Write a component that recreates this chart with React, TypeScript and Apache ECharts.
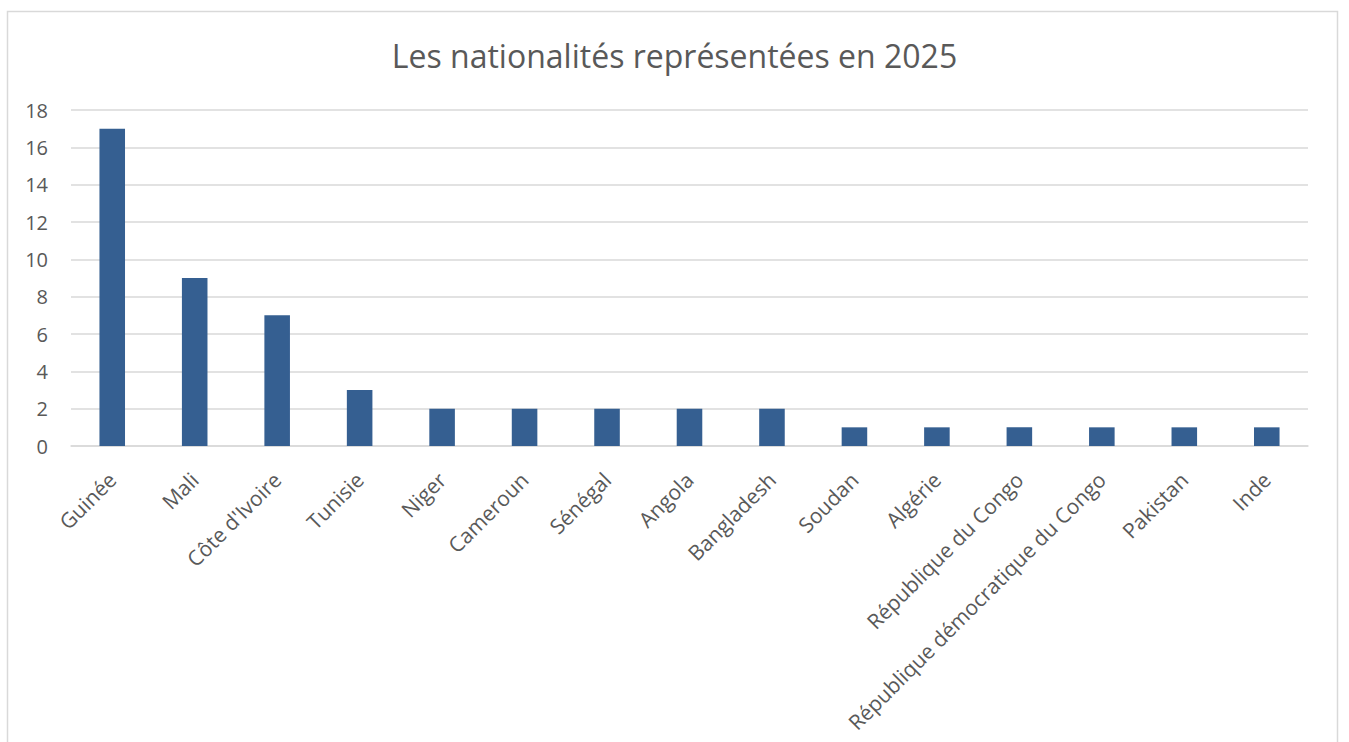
import React, { useEffect, useRef } from "react";
import * as echarts from "echarts";

const categories = [
  "Guinée",
  "Mali",
  "Côte d'Ivoire",
  "Tunisie",
  "Niger",
  "Cameroun",
  "Sénégal",
  "Angola",
  "Bangladesh",
  "Soudan",
  "Algérie",
  "République du Congo",
  "République démocratique du Congo",
  "Pakistan",
  "Inde",
];
const values = [17, 9, 7, 3, 2, 2, 2, 2, 2, 1, 1, 1, 1, 1, 1];
const title = "Les nationalités représentées en 2025";

export default function App() {
  const ref = useRef<HTMLDivElement>(null);
  useEffect(() => {
    document.body.style.margin = "0";
    const chart = echarts.init(ref.current!, null, { renderer: "svg" });
    chart.setOption({
      animation: false,
      backgroundColor: "#ffffff",
      title: {
        text: title,
        left: "center",
        top: 34,
        textStyle: {
          fontFamily: "Open Sans",
          fontSize: 32,
          fontWeight: "normal",
          color: "#595959",
        },
      },
      graphic: [
        {
          type: "rect",
          shape: { x: 7.5, y: 11.5, width: 1330, height: 760 },
          style: { fill: "none", stroke: "#d9d9d9", lineWidth: 1.5 },
          silent: true,
        },
      ],
      grid: { left: 71, right: 41, top: 110, bottom: 296, containLabel: false },
      xAxis: {
        type: "category",
        data: categories,
        axisLine: { show: true, lineStyle: { color: "#d9d9d9", width: 1.5 } },
        axisTick: { show: false },
        axisLabel: {
          rotate: 45,
          interval: 0,
          margin: 30,
          verticalAlign: "middle",
          fontFamily: "Open Sans",
          fontSize: 21,
          color: "#595959",
        },
      },
      yAxis: {
        type: "value",
        min: 0,
        max: 18,
        interval: 2,
        axisLine: { show: false },
        axisTick: { show: false },
        splitLine: { lineStyle: { color: "#d9d9d9", width: 1.5 } },
        axisLabel: {
          margin: 23,
          fontFamily: "Open Sans",
          fontSize: 20,
          color: "#595959",
        },
      },
      series: [
        {
          type: "bar",
          data: values,
          barWidth: "31%",
          itemStyle: { color: "#355f91" },
        },
      ],
    });
    return () => chart.dispose();
  }, []);
  return <div ref={ref} style={{ width: 1349, height: 742 }} />;
}
